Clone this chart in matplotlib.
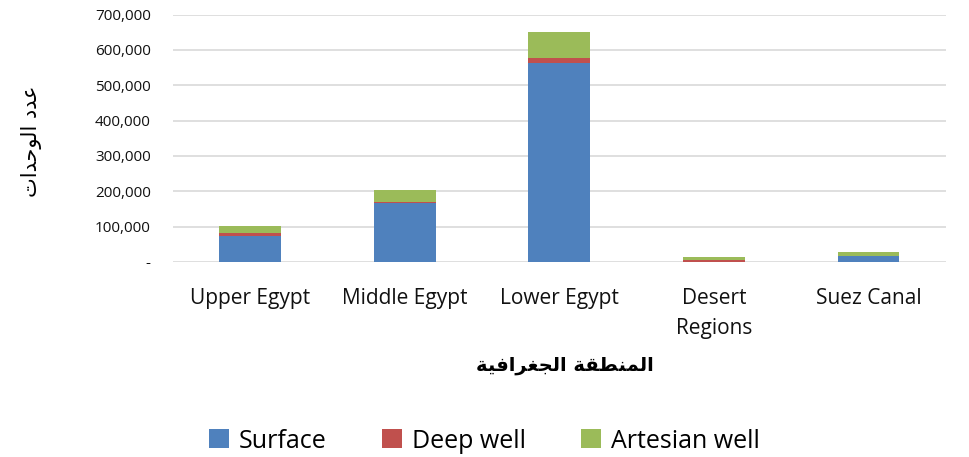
import matplotlib.pyplot as plt
import numpy as np
from matplotlib.ticker import FuncFormatter

regions = ["Upper Egypt", "Middle Egypt", "Lower Egypt", "Desert\nRegions", "Suez Canal"]
surface = [74000, 166000, 564000, 1000, 17000]
deep_well = [8000, 4000, 13000, 5000, 1000]
artesian_well = [19000, 33000, 75000, 7000, 11000]
series_names = ["Surface", "Deep well", "Artesian well"]
colors = ["#4F81BD", "#C0504D", "#9BBB59"]

# arabic labels typed as presentation forms in visual order (no shaping in matplotlib)
x_label = "\uFE94\uFEF4\uFED3\uFE8D\uFEAE\uFED0\uFEA0\uFEDF\uFE8D \uFE94\uFED8\uFEC4\uFEE8\uFEE4\uFEDF\uFE8D"
y_label = "\uFE95\uFE8D\uFEAA\uFEA3\uFEEE\uFEDF\uFE8D \uFEA9\uFEAA\uFECB"

plt.rcParams["font.family"] = ["Open Sans", "DejaVu Sans"]

fig = plt.figure(figsize=(9.69, 4.57), dpi=100)
ax = fig.add_axes([0.1785, 0.4267, 0.7975, 0.5413])

x = np.arange(len(regions))
bottom = np.zeros(len(regions))
for name, vals, c in zip(series_names, [surface, deep_well, artesian_well], colors):
    ax.bar(x, vals, 0.4, bottom=bottom, color=c, label=name, zorder=3)
    bottom += np.array(vals)

ax.set_ylim(0, 700000)
ax.set_xlim(-0.5, len(regions) - 0.5)
ax.set_yticks(np.arange(0, 700001, 100000))
ax.yaxis.set_major_formatter(FuncFormatter(lambda v, p: "-" if v == 0 else f"{int(v):,}"))
ax.grid(axis="y", color="#d9d9d9", linewidth=1.2, zorder=0)
for s in ax.spines.values():
    s.set_visible(False)
ax.tick_params(axis="both", length=0, colors="#111111")
ax.tick_params(axis="y", labelsize=11, pad=16)
ax.set_xticks(x)
ax.set_xticklabels(regions, fontsize=15, linespacing=1.55)
ax.tick_params(axis="x", pad=19)

fig.text(0.583, 0.2, x_label, ha="center", va="center", fontsize=14,
         fontweight="bold", family="DejaVu Sans")
fig.text(0.033, 0.69, y_label, ha="center", va="center", rotation=90,
         fontsize=15, family="DejaVu Sans")

fig.legend(loc="center", bbox_to_anchor=(0.5, 0.035), ncol=3, frameon=False,
           fontsize=18, handlelength=0.8, handleheight=0.8, handletextpad=0.4,
           columnspacing=2.2)

fig.savefig("out.png", dpi=100)
